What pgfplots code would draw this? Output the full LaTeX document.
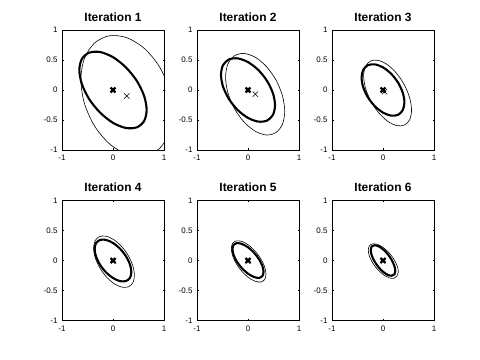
\documentclass[border=0pt]{standalone}
\usepackage{fontspec}
\setmainfont{Liberation Sans}
\usepackage{pgfplots}
\pgfplotsset{compat=1.18}

\pgfplotsset{
  panel/.style={
    width=102bp, height=120bp, scale only axis,
    anchor=south west,
    xmin=-1, xmax=1, ymin=-1, ymax=1,
    xtick={-1,0,1}, ytick={-1,-0.5,0,0.5,1},
    tick align=inside, major tick length=1.5bp,
    tick style={black, line width=0.4bp},
    axis line style={line width=0.5bp},
    tick label style={font=\fontsize{8}{9}\selectfont},
    xticklabel style={yshift=-1.5bp},
    yticklabel style={xshift=-1bp},
    /pgf/number format/assume math mode=true,
    title style={font=\fontsize{12}{13}\selectfont\bfseries,
      at={(0.5,1)}, anchor=base, yshift=3bp},
  },
  est/.style={black, line width=2.1bp, smooth cycle},
  tru/.style={black, line width=0.6bp, smooth cycle},
  cest/.style={only marks, mark=x, mark size=3.4bp, line width=2.2bp, black},
  ctru/.style={only marks, mark=x, mark size=3.8bp, line width=0.5bp, black},
}

\begin{document}
\begin{tikzpicture}
\useasboundingbox (0,0) rectangle (480bp,360bp);

% iteration 1
\begin{axis}[panel, at={(62bp,210bp)}, title={Iteration 1}]
\addplot[tru] coordinates {(1.17,-0.373) (1.102,0.02) (0.906,0.394) (0.615,0.693) (0.27,0.872) (-0.075,0.903) (-0.366,0.78) (-0.562,0.524)
  (-0.63,0.173) (-0.562,-0.22) (-0.366,-0.594) (-0.075,-0.893) (0.27,-1.072) (0.615,-1.103) (0.906,-0.98) (1.102,-0.724)};
\addplot[est] coordinates {(0.66,-0.333) (0.61,-0.098) (0.467,0.152) (0.253,0.377) (0,0.547) (-0.253,0.633) (-0.467,0.622) (-0.61,0.518)
  (-0.66,0.333) (-0.61,0.098) (-0.467,-0.152) (-0.253,-0.377) (0,-0.547) (0.253,-0.633) (0.467,-0.622) (0.61,-0.518)};
\addplot[ctru] coordinates {(0.27,-0.10)};
\addplot[cest] coordinates {(0,0)};
\end{axis}

% iteration 2
\begin{axis}[panel, at={(197bp,210bp)}, title={Iteration 2}]
\addplot[tru] coordinates {(0.72,-0.356) (0.676,-0.098) (0.55,0.164) (0.362,0.39) (0.14,0.547) (-0.082,0.61) (-0.27,0.568) (-0.396,0.43)
  (-0.44,0.216) (-0.396,-0.042) (-0.27,-0.304) (-0.082,-0.53) (0.14,-0.687) (0.362,-0.75) (0.55,-0.708) (0.676,-0.57)};
\addplot[est] coordinates {(0.53,-0.254) (0.49,-0.057) (0.375,0.149) (0.203,0.333) (0,0.465) (-0.203,0.527) (-0.375,0.509) (-0.49,0.413)
  (-0.53,0.254) (-0.49,0.057) (-0.375,-0.149) (-0.203,-0.333) (0,-0.465) (0.203,-0.527) (0.375,-0.509) (0.49,-0.413)};
\addplot[ctru] coordinates {(0.145,-0.07)};
\addplot[cest] coordinates {(0,0)};
\end{axis}

% iteration 3
\begin{axis}[panel, at={(332bp,210bp)}, title={Iteration 3}]
\addplot[tru] coordinates {(0.56,-0.336) (0.524,-0.134) (0.422,0.08) (0.27,0.274) (0.09,0.42) (-0.09,0.494) (-0.242,0.484) (-0.344,0.394)
  (-0.38,0.236) (-0.344,0.034) (-0.242,-0.18) (-0.09,-0.374) (0.09,-0.52) (0.27,-0.594) (0.422,-0.584) (0.524,-0.494)};
\addplot[est] coordinates {(0.42,-0.206) (0.388,-0.046) (0.297,0.121) (0.161,0.269) (0,0.377) (-0.161,0.427) (-0.297,0.413) (-0.388,0.334)
  (-0.42,0.206) (-0.388,0.046) (-0.297,-0.121) (-0.161,-0.269) (0,-0.377) (0.161,-0.427) (0.297,-0.413) (0.388,-0.334)};
\addplot[ctru] coordinates {(0.03,-0.03)};
\addplot[cest] coordinates {(0,0)};
\end{axis}

% iteration 4
\begin{axis}[panel, at={(62bp,39.5bp)}, title={Iteration 4}]
\addplot[tru] coordinates {(0.42,-0.248) (0.39,-0.091) (0.303,0.077) (0.173,0.23) (0.02,0.345) (-0.133,0.404) (-0.263,0.399) (-0.35,0.331)
  (-0.38,0.208) (-0.35,0.051) (-0.263,-0.117) (-0.133,-0.27) (0.02,-0.385) (0.173,-0.444) (0.303,-0.439) (0.39,-0.371)};
\addplot[est] coordinates {(0.36,-0.193) (0.333,-0.066) (0.255,0.07) (0.138,0.196) (0,0.292) (-0.138,0.344) (-0.255,0.342) (-0.333,0.29)
  (-0.36,0.193) (-0.333,0.066) (-0.255,-0.07) (-0.138,-0.196) (0,-0.292) (0.138,-0.344) (0.255,-0.342) (0.333,-0.29)};
\addplot[ctru] coordinates {(0.01,-0.01)};
\addplot[cest] coordinates {(0,0)};
\end{axis}

% iteration 5
\begin{axis}[panel, at={(197bp,39.5bp)}, title={Iteration 5}]
\addplot[tru] coordinates {(0.353,-0.229) (0.327,-0.109) (0.253,0.026) (0.143,0.153) (0.013,0.256) (-0.117,0.317) (-0.227,0.328) (-0.301,0.287)
  (-0.327,0.199) (-0.301,0.079) (-0.227,-0.056) (-0.117,-0.183) (0.013,-0.286) (0.143,-0.347) (0.253,-0.358) (0.327,-0.317)};
\addplot[est] coordinates {(0.305,-0.189) (0.282,-0.091) (0.216,0.022) (0.117,0.131) (0,0.22) (-0.117,0.275) (-0.216,0.29) (-0.282,0.259)
  (-0.305,0.189) (-0.282,0.091) (-0.216,-0.022) (-0.117,-0.131) (0,-0.22) (0.117,-0.275) (0.216,-0.29) (0.282,-0.259)};
\addplot[ctru] coordinates {(0.005,-0.005)};
\addplot[cest] coordinates {(0,0)};
\end{axis}

% iteration 6
\begin{axis}[panel, at={(332bp,39.5bp)}, title={Iteration 6}]
\addplot[tru] coordinates {(0.301,-0.193) (0.279,-0.093) (0.215,0.02) (0.119,0.128) (0.006,0.215) (-0.107,0.268) (-0.203,0.278) (-0.267,0.245)
  (-0.289,0.173) (-0.267,0.073) (-0.203,-0.04) (-0.107,-0.148) (0.006,-0.235) (0.119,-0.288) (0.215,-0.298) (0.267,-0.265)};
\addplot[est] coordinates {(0.24,-0.173) (0.222,-0.088) (0.17,0.01) (0.092,0.107) (0,0.187) (-0.092,0.239) (-0.17,0.254) (-0.222,0.232)
  (-0.24,0.173) (-0.222,0.088) (-0.17,-0.01) (-0.092,-0.107) (0,-0.187) (0.092,-0.239) (0.17,-0.254) (0.222,-0.232)};
\addplot[ctru] coordinates {(0,0)};
\addplot[cest] coordinates {(0,0)};
\end{axis}
\end{tikzpicture}
\end{document}
